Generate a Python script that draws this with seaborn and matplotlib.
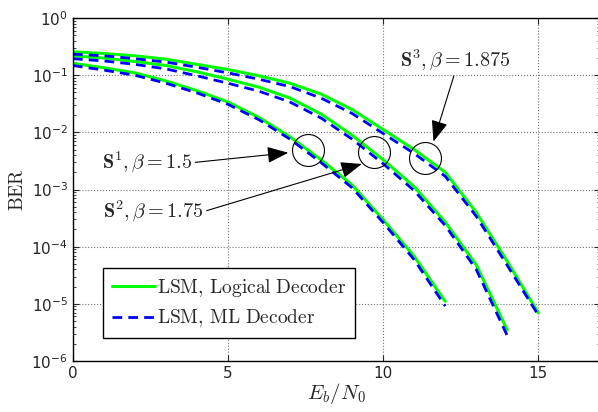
import numpy as np
import pandas as pd
import matplotlib
matplotlib.use('Agg')
import matplotlib.pyplot as plt
import seaborn as sns
from matplotlib.lines import Line2D

# Eb/N0 axis for each scheme
snr_s1 = list(range(0, 13))
snr_s2 = list(range(0, 15))
snr_s3 = list(range(0, 16))

# BER - logical decoder
ber_logic_s1 = [0.162, 0.135, 0.110, 0.0794, 0.0537, 0.0339, 0.0182, 0.00832,
                0.00331, 0.00120, 2.95e-4, 6.76e-5, 1.10e-5]
ber_logic_s2 = [0.219, 0.200, 0.174, 0.148, 0.115, 0.0851, 0.0617, 0.0398,
                0.0209, 0.00891, 0.00331, 0.00112, 2.69e-4, 4.79e-5, 3.47e-6]
ber_logic_s3 = [0.257, 0.240, 0.219, 0.191, 0.155, 0.126, 0.0977, 0.0724,
                0.0468, 0.0251, 0.0112, 0.00501, 0.00200, 3.98e-4, 5.50e-5, 6.92e-6]

# BER - ML decoder
ber_ml_s1 = [0.148, 0.123, 0.100, 0.0724, 0.0490, 0.0309, 0.0166, 0.00759,
             0.00295, 0.00107, 2.63e-4, 5.89e-5, 9.1e-6]
ber_ml_s2 = [0.195, 0.178, 0.155, 0.129, 0.0977, 0.0724, 0.0525, 0.0339,
             0.0178, 0.00759, 0.00282, 9.55e-4, 2.34e-4, 3.98e-5, 2.75e-6]
ber_ml_s3 = [0.234, 0.219, 0.195, 0.170, 0.138, 0.110, 0.0851, 0.0631,
             0.0398, 0.0214, 0.00955, 0.00427, 0.00170, 3.39e-4, 4.68e-5, 6.31e-6]

decoders = ['LSM, Logical Decoder', 'LSM, ML Decoder']

# annotations: label, circle centre, arrow tip, text position
ann_labels = [r'$\mathbf{S}^1, \beta = 1.5$', r'$\mathbf{S}^2, \beta = 1.75$',
              r'$\mathbf{S}^3, \beta = 1.875$']
circle_x = [7.58, 9.69, 11.35]
circle_y = [4.9e-3, 4.5e-3, 3.5e-3]
tip_x = [6.94, 9.31, 11.62]
tip_y = [4.4e-3, 2.8e-3, 6.9e-3]
text_x = [0.93, 0.97, 12.31]
text_y = [2.95e-3, 4.1e-4, 0.184]


def build_frame():
    rows = []
    curves = [
        (decoders[0], 'S1', snr_s1, ber_logic_s1),
        (decoders[0], 'S2', snr_s2, ber_logic_s2),
        (decoders[0], 'S3', snr_s3, ber_logic_s3),
        (decoders[1], 'S1', snr_s1, ber_ml_s1),
        (decoders[1], 'S2', snr_s2, ber_ml_s2),
        (decoders[1], 'S3', snr_s3, ber_ml_s3),
    ]
    for dec, sch, xs, ys in curves:
        for x, y in zip(xs, ys):
            rows.append({'snr': x, 'ber': y, 'decoder': dec, 'scheme': sch})
    return pd.DataFrame(rows)


sns.set_style('ticks')
plt.rcParams['font.family'] = ['DejaVu Sans']

df = build_frame()

fig = plt.figure(figsize=(5.98, 4.12), dpi=100)
ax = fig.add_axes([0.122, 0.124, 0.882, 0.832])

colors = {decoders[0]: (0, 1, 0), decoders[1]: (0, 0, 1)}
for dec in decoders:
    sub = df[df['decoder'] == dec]
    sns.lineplot(data=sub, x='snr', y='ber', units='scheme', estimator=None,
                 color=colors[dec], lw=2.2 if dec == decoders[0] else 2.0,
                 ax=ax, legend=False)

for line in ax.get_lines()[3:]:
    line.set_dashes((3.5, 2.2))

ax.set_yscale('log')
ax.set_xlim(0, 17)
ax.set_ylim(1e-6, 1)
ax.set_xticks([0, 5, 10, 15])
ax.set_yticks([1e-6, 1e-5, 1e-4, 1e-3, 1e-2, 1e-1, 1])
ax.grid(True, which='major', linestyle=':', color='0.45', lw=0.8)
ax.tick_params(which='both', direction='in', top=True, right=True,
               labelsize=11)
ax.tick_params(which='major', length=4)
ax.tick_params(which='minor', length=2)
for s in ax.spines.values():
    s.set_linewidth(1.0)
    s.set_color('black')

ax.set_xlabel(r'$E_b/N_0$', fontsize=15, math_fontfamily='cm', labelpad=0)
ax.set_ylabel(r'$\mathrm{BER}$', fontsize=14, math_fontfamily='cm', labelpad=3)

# circles and arrows
ax.plot(circle_x, circle_y, 'o', mfc='none', mec='black', mew=0.8, ms=23,
        ls='none')
for i, lab in enumerate(ann_labels):
    if i < 2:
        ha, va, rel = 'left', 'center', (1.0, 0.5)
    else:
        ha, va, rel = 'center', 'center', (0.5, 0.0)
    ax.annotate(lab, xy=(tip_x[i], tip_y[i]), xytext=(text_x[i], text_y[i]),
                ha=ha, va=va, fontsize=14.5, math_fontfamily='cm',
                arrowprops=dict(arrowstyle='-|>,head_length=0.9,head_width=0.35',
                                color='black', lw=0.8, relpos=rel,
                                shrinkA=0, shrinkB=0))

handles = [Line2D([], [], color=(0, 1, 0), lw=2.2),
           Line2D([], [], color=(0, 0, 1), lw=2.0, dashes=(3.5, 2.2))]
leg = ax.legend(handles, [r'$\mathrm{LSM,\,Logical\ Decoder}$',
                          r'$\mathrm{LSM,\,ML\ Decoder}$'],
                loc='upper left', bbox_to_anchor=(0.057, 0.271),
                prop={'size': 14, 'math_fontfamily': 'cm'},
                fancybox=False, framealpha=1, edgecolor='black',
                handlelength=2.2, handletextpad=0.15, borderaxespad=0,
                labelspacing=0.45, borderpad=0.45)
leg.get_frame().set_linewidth(1.0)

fig.savefig('out.png', dpi=100)
